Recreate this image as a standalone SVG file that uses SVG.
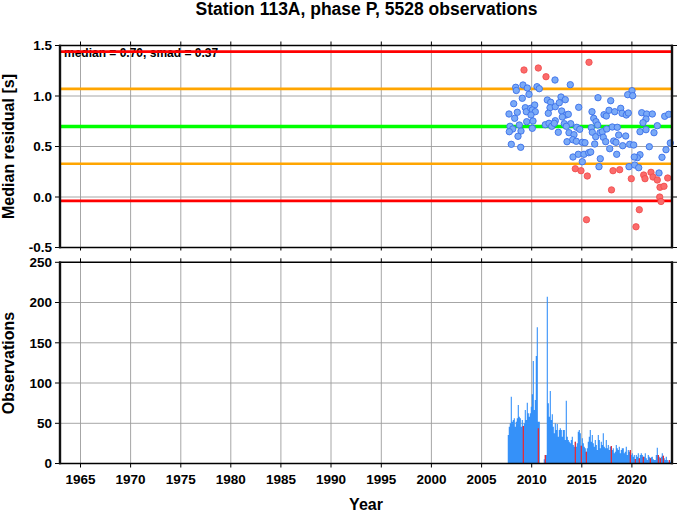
<svg xmlns="http://www.w3.org/2000/svg" width="678" height="511" viewBox="0 0 678 511">
<style>
text{font-family:"Liberation Sans",Arial,Helvetica,sans-serif;font-weight:bold;fill:#000}
.title{font-size:17.5px;text-anchor:middle}
.axt{font-size:16px;text-anchor:middle}
.tl{font-size:13.5px;text-anchor:end}
.tx{font-size:13.5px;text-anchor:middle}
.stat{font-size:12px}
.grid{stroke:#9c9c9c;stroke-width:0.9;fill:none}
.tick{stroke:#000;stroke-width:1;fill:none}
.frv{stroke:#111;stroke-width:2.4;fill:none}
.frh{stroke:#000;stroke-width:1.6;fill:none}
.bp circle{fill:#7aaaf7;stroke:#3c70ea;stroke-width:0.9}
.rp circle{fill:#fb6b6b;stroke:#f04a4a;stroke-width:0.8}
</style>
<rect width="678" height="511" fill="#fff"/>
<text class="title" x="366.5" y="14.5">Station 113A, phase P, 5528 observations</text>

<g id="top-panel">
<path class="grid" d="M80.5 45.5V247.5M130.6 45.5V247.5M180.8 45.5V247.5M230.8 45.5V247.5M280.9 45.5V247.5M331 45.5V247.5M381.3 45.5V247.5M431.4 45.5V247.5M481.6 45.5V247.5M531.7 45.5V247.5M581.8 45.5V247.5M631.9 45.5V247.5M60 96H672M60 146.5H672M60 197H672"/>
<text class="stat" x="64" y="57">median = 0.70, smad = 0.37</text>
<g id="ref-lines" fill="none">
<path d="M61 51.6H671" stroke="#ff0000" stroke-width="2.6"/>
<path d="M61 88.9H671" stroke="#ffa500" stroke-width="2.6"/>
<path d="M61 126.5H671" stroke="#00ff00" stroke-width="3.6"/>
<path d="M61 163.8H671" stroke="#ffa500" stroke-width="2.6"/>
<path d="M61 200.9H671" stroke="#ff0000" stroke-width="2.6"/>
</g>
<g id="points-blue" class="bp">
<circle cx="515.7" cy="87.3" r="3.2"/><circle cx="516.3" cy="90.5" r="3.2"/><circle cx="523" cy="85" r="3.2"/><circle cx="527.3" cy="88" r="3.2"/><circle cx="537" cy="86.7" r="3.2"/><circle cx="539.3" cy="88.7" r="3.2"/><circle cx="555" cy="80" r="3.2"/><circle cx="570.3" cy="84.7" r="3.2"/>
<circle cx="529" cy="94.3" r="3.2"/><circle cx="522.3" cy="98.3" r="3.2"/><circle cx="513.7" cy="103.7" r="3.2"/><circle cx="509" cy="114" r="3.2"/><circle cx="514.7" cy="118.3" r="3.2"/><circle cx="517.3" cy="112.3" r="3.2"/><circle cx="525.3" cy="107.7" r="3.2"/><circle cx="526.3" cy="111.7" r="3.2"/><circle cx="530.7" cy="108.3" r="3.2"/><circle cx="534.7" cy="105" r="3.2"/><circle cx="532.3" cy="110" r="3.2"/><circle cx="535.3" cy="111.7" r="3.2"/><circle cx="531" cy="115" r="3.2"/><circle cx="526.7" cy="121.7" r="3.2"/><circle cx="533" cy="121" r="3.2"/>
<circle cx="547.3" cy="100" r="3.2"/><circle cx="550.7" cy="102.3" r="3.2"/><circle cx="550" cy="107.7" r="3.2"/><circle cx="555.3" cy="106.7" r="3.2"/><circle cx="561" cy="97" r="3.2"/><circle cx="565.3" cy="99.7" r="3.2"/><circle cx="559.3" cy="102.7" r="3.2"/><circle cx="561.7" cy="111" r="3.2"/><circle cx="566" cy="115" r="3.2"/><circle cx="568.3" cy="114.3" r="3.2"/><circle cx="562.3" cy="117" r="3.2"/><circle cx="548.3" cy="113.3" r="3.2"/><circle cx="578.7" cy="107.3" r="3.2"/><circle cx="555.3" cy="120.7" r="3.2"/>
<circle cx="545.3" cy="124.7" r="3.2"/><circle cx="549" cy="123.3" r="3.2"/><circle cx="551.7" cy="126.3" r="3.2"/><circle cx="554.3" cy="123.3" r="3.2"/><circle cx="564.3" cy="123.7" r="3.2"/><circle cx="570.7" cy="123.7" r="3.2"/><circle cx="566.3" cy="126.3" r="3.2"/><circle cx="576.7" cy="127.3" r="3.2"/><circle cx="579.7" cy="129.3" r="3.2"/>
<circle cx="510" cy="126.3" r="3.2"/><circle cx="512.7" cy="129" r="3.2"/><circle cx="509.3" cy="131.7" r="3.2"/><circle cx="519.3" cy="125" r="3.2"/><circle cx="521" cy="131" r="3.2"/><circle cx="518" cy="136.3" r="3.2"/><circle cx="532.3" cy="128.3" r="3.2"/><circle cx="558.3" cy="132.3" r="3.2"/><circle cx="569" cy="132.7" r="3.2"/><circle cx="574" cy="134.7" r="3.2"/><circle cx="572.7" cy="139.7" r="3.2"/><circle cx="567" cy="141.7" r="3.2"/><circle cx="576.3" cy="141.3" r="3.2"/><circle cx="582.3" cy="142.3" r="3.2"/><circle cx="511.3" cy="144.3" r="3.2"/><circle cx="520.7" cy="147.3" r="3.2"/>
<circle cx="573" cy="157" r="3.2"/><circle cx="578.3" cy="154.3" r="3.2"/><circle cx="584" cy="154.3" r="3.2"/><circle cx="588.7" cy="152.7" r="3.2"/><circle cx="582.3" cy="161.7" r="3.2"/>
<circle cx="632" cy="90.7" r="3.2"/><circle cx="627.7" cy="94.7" r="3.2"/><circle cx="632.7" cy="95.7" r="3.2"/><circle cx="598" cy="97.7" r="3.2"/><circle cx="610.7" cy="100.7" r="3.2"/>
<circle cx="592" cy="111.7" r="3.2"/><circle cx="604" cy="114.7" r="3.2"/><circle cx="606.3" cy="116" r="3.2"/><circle cx="609" cy="110.3" r="3.2"/><circle cx="614.7" cy="111.7" r="3.2"/><circle cx="620.7" cy="108.3" r="3.2"/><circle cx="622" cy="113.3" r="3.2"/><circle cx="626.3" cy="115" r="3.2"/><circle cx="628.3" cy="113" r="3.2"/><circle cx="641.7" cy="112.7" r="3.2"/><circle cx="646.7" cy="114" r="3.2"/><circle cx="652.3" cy="114" r="3.2"/><circle cx="646" cy="119" r="3.2"/><circle cx="643" cy="122.7" r="3.2"/><circle cx="664.7" cy="116.3" r="3.2"/><circle cx="668.7" cy="114.3" r="3.2"/>
<circle cx="593.7" cy="118.3" r="3.2"/><circle cx="596" cy="121.7" r="3.2"/><circle cx="597.7" cy="125" r="3.2"/><circle cx="591.3" cy="127.7" r="3.2"/><circle cx="592.3" cy="132.3" r="3.2"/><circle cx="595.7" cy="136.7" r="3.2"/><circle cx="600" cy="132.7" r="3.2"/><circle cx="602.3" cy="131.7" r="3.2"/><circle cx="603.3" cy="137.3" r="3.2"/><circle cx="606.7" cy="129" r="3.2"/><circle cx="612.3" cy="127" r="3.2"/><circle cx="617.3" cy="127.3" r="3.2"/><circle cx="618.7" cy="135" r="3.2"/><circle cx="625.7" cy="136" r="3.2"/><circle cx="640" cy="131.7" r="3.2"/><circle cx="646" cy="129.7" r="3.2"/><circle cx="654" cy="132.7" r="3.2"/><circle cx="657.3" cy="125.7" r="3.2"/>
<circle cx="594.7" cy="144" r="3.2"/><circle cx="605.7" cy="141.7" r="3.2"/><circle cx="613.7" cy="141" r="3.2"/><circle cx="616" cy="142.3" r="3.2"/><circle cx="622.7" cy="145.7" r="3.2"/><circle cx="629.7" cy="144.3" r="3.2"/><circle cx="633.7" cy="145" r="3.2"/><circle cx="649.3" cy="146.7" r="3.2"/><circle cx="666" cy="149.7" r="3.2"/><circle cx="670.3" cy="143" r="3.2"/><circle cx="585" cy="142.7" r="3.2"/>
<circle cx="590.7" cy="152" r="3.2"/><circle cx="609.7" cy="148.7" r="3.2"/><circle cx="616.7" cy="154.3" r="3.2"/><circle cx="640" cy="154.7" r="3.2"/><circle cx="637.3" cy="157.7" r="3.2"/><circle cx="634.3" cy="157" r="3.2"/><circle cx="600.3" cy="158.7" r="3.2"/><circle cx="662" cy="157.3" r="3.2"/>
<circle cx="599" cy="166.7" r="3.2"/><circle cx="629" cy="166.7" r="3.2"/><circle cx="634.7" cy="165" r="3.2"/><circle cx="638.7" cy="167.7" r="3.2"/><circle cx="659" cy="173" r="3.2"/>
</g>
<g id="points-red" class="rp">
<circle cx="524" cy="70" r="3.2"/><circle cx="538.3" cy="68" r="3.2"/><circle cx="546" cy="76.7" r="3.2"/><circle cx="589" cy="62.3" r="3.2"/>
<circle cx="575.3" cy="168.7" r="3.2"/><circle cx="581" cy="170.7" r="3.2"/><circle cx="587.3" cy="176" r="3.2"/><circle cx="586.5" cy="219.7" r="3.2"/>
<circle cx="613" cy="170.7" r="3.2"/><circle cx="619.7" cy="169.7" r="3.2"/><circle cx="611.5" cy="189.9" r="3.2"/><circle cx="631.3" cy="178.7" r="3.2"/><circle cx="643.7" cy="175" r="3.2"/><circle cx="645" cy="178.7" r="3.2"/><circle cx="651" cy="172.3" r="3.2"/><circle cx="653" cy="177" r="3.2"/><circle cx="657.3" cy="180" r="3.2"/><circle cx="667.7" cy="178" r="3.2"/><circle cx="660" cy="187.3" r="3.2"/><circle cx="664" cy="186.3" r="3.2"/><circle cx="659.7" cy="197" r="3.2"/><circle cx="661" cy="201.5" r="3.2"/><circle cx="639.3" cy="209.7" r="3.2"/><circle cx="636" cy="226.8" r="3.2"/>
</g>
<path class="tick" d="M55 45.5H60M55 96H60M55 146.5H60M55 197H60M55 247.5H60M672 45.5H677M672 96H677M672 146.5H677M672 197H677M672 247.5H677M80.5 41.5V45.5M130.6 41.5V45.5M180.8 41.5V45.5M230.8 41.5V45.5M280.9 41.5V45.5M331 41.5V45.5M381.3 41.5V45.5M431.4 41.5V45.5M481.6 41.5V45.5M531.7 41.5V45.5M581.8 41.5V45.5M631.9 41.5V45.5M80.5 247.5V250.5M130.6 247.5V250.5M180.8 247.5V250.5M230.8 247.5V250.5M280.9 247.5V250.5M331 247.5V250.5M381.3 247.5V250.5M431.4 247.5V250.5M481.6 247.5V250.5M531.7 247.5V250.5M581.8 247.5V250.5M631.9 247.5V250.5"/>
<path class="frh" d="M59 45.5H673M59 247.5H673"/>
<path class="frv" d="M60 44.7V248.3M672 44.7V248.3"/>
<text class="tl" x="52" y="50.2">1.5</text>
<text class="tl" x="52" y="100.7">1.0</text>
<text class="tl" x="52" y="151.2">0.5</text>
<text class="tl" x="52" y="201.7">0.0</text>
<text class="tl" x="52" y="252.2">-0.5</text>
<text class="axt" transform="translate(14,146.5) rotate(-90)">Median residual [s]</text>
</g>

<g id="bottom-panel">
<path class="grid" d="M80.5 262.3V463.5M130.6 262.3V463.5M180.8 262.3V463.5M230.8 262.3V463.5M280.9 262.3V463.5M331 262.3V463.5M381.3 262.3V463.5M431.4 262.3V463.5M481.6 262.3V463.5M531.7 262.3V463.5M581.8 262.3V463.5M631.9 262.3V463.5M60 302.5H672M60 342.8H672M60 383H672M60 423.3H672"/>
<path id="bars-blue" fill="none" stroke="#3591f9" stroke-width="1.1" d="M508.3 463.5V435M509.3 463.5V426.7M510.3 463.5V423.3M511.3 463.5V396.7M512.3 463.5V421.7M513.3 463.5V420M514.3 463.5V418.3M515.3 463.5V426.7M516.3 463.5V421.7M517.3 463.5V418.3M518.3 463.5V405M519.3 463.5V416.7M520.3 463.5V418.3M521.3 463.5V426.7M522.3 463.5V420M523.3 463.5V426M524.3 463.5V423.3M525.3 463.5V410M526.3 463.5V420M527.3 463.5V402.7M528.3 463.5V413.3M529.3 463.5V416.7M530.3 463.5V413.3M531.3 463.5V406.7M532.3 463.5V394.3M533.3 463.5V361M534.3 463.5V410M535.3 463.5V400M536.3 463.5V356M537.3 463.5V327.3M538.3 463.5V421.7M539.3 463.5V421.7M544.3 463.5V459.3M545.3 463.5V455M546.3 463.5V455M547.3 463.5V296.7M548.3 463.5V403.3M549.3 463.5V416.7M550.3 463.5V391M551.3 463.5V420M552.3 463.5V414.3M553.3 463.5V426.7M554.3 463.5V433.3M555.3 463.5V423.3M556.3 463.5V430M557.3 463.5V424M558.3 463.5V436.7M559.3 463.5V430M560.3 463.5V428.3M561.3 463.5V430M562.3 463.5V436.7M563.3 463.5V430M564.3 463.5V430M565.3 463.5V440M566.3 463.5V400.7M567.3 463.5V436.7M568.3 463.5V440M569.3 463.5V441.7M570.3 463.5V443.3M571.3 463.5V440M572.3 463.5V436.7M573.3 463.5V445M574.3 463.5V446.7M575.3 463.5V441.7M576.3 463.5V446.7M577.3 463.5V443.3M578.3 463.5V431.7M579.3 463.5V430M580.3 463.5V433.3M581.3 463.5V445.7M582.3 463.5V438.3M583.3 463.5V443.3M584.3 463.5V446.7M585.3 463.5V448.3M586.3 463.5V451.7M587.3 463.5V448.3M588.3 463.5V441.7M589.3 463.5V436.7M590.3 463.5V430M591.3 463.5V441.7M592.3 463.5V435M593.3 463.5V443.3M594.3 463.5V446.7M595.3 463.5V440M596.3 463.5V445M597.3 463.5V450M598.3 463.5V435M599.3 463.5V440M600.3 463.5V448.3M601.3 463.5V441.7M602.3 463.5V445M603.3 463.5V433.3M604.3 463.5V446.7M605.3 463.5V448.3M606.3 463.5V440M607.3 463.5V448.3M608.3 463.5V445M609.3 463.5V450M610.3 463.5V446.7M611.3 463.5V446M612.3 463.5V450M613.3 463.5V448.3M614.3 463.5V453.3M615.3 463.5V451.7M616.3 463.5V445M617.3 463.5V448.3M618.3 463.5V450M619.3 463.5V446.7M620.3 463.5V453.3M621.3 463.5V450M622.3 463.5V448.3M623.3 463.5V448.3M624.3 463.5V453.3M625.3 463.5V451.7M626.3 463.5V446.7M627.3 463.5V455M628.3 463.5V450M629.3 463.5V451.7M630.3 463.5V450M631.3 463.5V455M632.3 463.5V453.3M633.3 463.5V456.7M634.3 463.5V455M635.3 463.5V459M636.3 463.5V455M637.3 463.5V456.7M638.3 463.5V453.3M639.3 463.5V458.3M640.3 463.5V455M641.3 463.5V453.3M642.3 463.5V455M643.3 463.5V456.7M644.3 463.5V456.7M645.3 463.5V453.3M646.3 463.5V458.3M647.3 463.5V460M648.3 463.5V455M649.3 463.5V456.7M650.3 463.5V458.3M651.3 463.5V457.3M652.3 463.5V456.7M653.3 463.5V459.3M654.3 463.5V460M655.3 463.5V460M656.3 463.5V455M657.3 463.5V447.7M658.3 463.5V455M659.3 463.5V456.7M660.3 463.5V458.3M661.3 463.5V456.7M662.3 463.5V453.3M663.3 463.5V455.7M664.3 463.5V458.3M665.3 463.5V460M666.3 463.5V456.7M667.3 463.5V460M668.3 463.5V461.7M669.3 463.5V460M670.3 463.5V461.7M671.3 463.5V460"/>
<path id="bars-red" fill="none" stroke="#ff1a1a" stroke-width="1.1" d="M523.3 463.5V426M538.3 463.5V428.3M545.3 463.5V455M575.3 463.5V441.7M581.3 463.5V445.7M586.3 463.5V451.7M611.3 463.5V446M630.3 463.5V450M635.3 463.5V459M639.3 463.5V458.3M643.3 463.5V456.7M650.3 463.5V458.3M658.3 463.5V455M660.3 463.5V458.3M663.3 463.5V455.7M669.3 463.5V460"/>
<path class="tick" d="M55 262.3H60M55 302.5H60M55 342.8H60M55 383H60M55 423.3H60M55 463.5H60M672 262.3H677M672 302.5H677M672 342.8H677M672 383H677M672 423.3H677M672 463.5H677M80.5 258.3V262.3M130.6 258.3V262.3M180.8 258.3V262.3M230.8 258.3V262.3M280.9 258.3V262.3M331 258.3V262.3M381.3 258.3V262.3M431.4 258.3V262.3M481.6 258.3V262.3M531.7 258.3V262.3M581.8 258.3V262.3M631.9 258.3V262.3M80.5 463.5V467.5M130.6 463.5V467.5M180.8 463.5V467.5M230.8 463.5V467.5M280.9 463.5V467.5M331 463.5V467.5M381.3 463.5V467.5M431.4 463.5V467.5M481.6 463.5V467.5M531.7 463.5V467.5M581.8 463.5V467.5M631.9 463.5V467.5"/>
<path class="frh" d="M59 262.3H673M59 463.5H673"/>
<path class="frv" d="M60 261.5V464.3M672 261.5V464.3"/>
<text class="tl" x="52" y="267">250</text>
<text class="tl" x="52" y="307.2">200</text>
<text class="tl" x="52" y="347.5">150</text>
<text class="tl" x="52" y="387.7">100</text>
<text class="tl" x="52" y="428">50</text>
<text class="tl" x="52" y="468.2">0</text>
<text class="tx" x="80.5" y="484.3">1965</text>
<text class="tx" x="130.6" y="484.3">1970</text>
<text class="tx" x="180.8" y="484.3">1975</text>
<text class="tx" x="230.8" y="484.3">1980</text>
<text class="tx" x="280.9" y="484.3">1985</text>
<text class="tx" x="331" y="484.3">1990</text>
<text class="tx" x="381.3" y="484.3">1995</text>
<text class="tx" x="431.4" y="484.3">2000</text>
<text class="tx" x="481.6" y="484.3">2005</text>
<text class="tx" x="531.7" y="484.3">2010</text>
<text class="tx" x="581.8" y="484.3">2015</text>
<text class="tx" x="631.9" y="484.3">2020</text>
<text class="axt" x="366" y="509.5">Year</text>
<text class="axt" transform="translate(14,363) rotate(-90)">Observations</text>
</g>
</svg>
